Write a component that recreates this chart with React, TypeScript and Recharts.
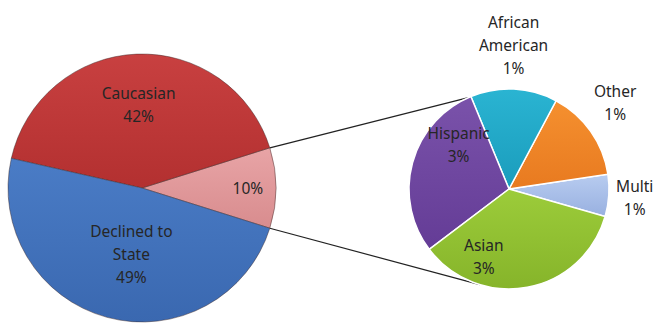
import React from "react";
import { PieChart, Pie, Cell, Customized } from "recharts";

// main pie: the 10% slice is broken out into the small pie
const mainNames = ["Other", "Caucasian", "Declined to State"];
const mainValues = [9.7, 41.6, 48.7];

// breakdown of the broken-out slice (counter-clockwise from Multi)
const subNames = ["Multi", "Other", "African American", "Hispanic", "Asian"];
const subValues = [0.66, 1.44, 1.36, 2.82, 3.42];

const mainData = mainNames.map((name, i) => ({ name, value: mainValues[i] }));
const subData = subNames.map((name, i) => ({ name, value: subValues[i] }));

const mainColors = ["url(#gPink)", "url(#gRed)", "url(#gBlue)"];
const subColors = ["url(#gLtBlue)", "url(#gOrange)", "url(#gAqua)", "url(#gPurple)", "url(#gGreen)"];

// label text lines and placement (radius factor, angle offset)
const mainLines: Record<string, string[]> = {
  Other: [],
  Caucasian: ["Caucasian"],
  "Declined to State": ["Declined to", "State"],
};
const subLines: Record<string, string[]> = {
  Multi: ["Multi"],
  Other: ["Other"],
  "African American": ["African", "American"],
  Hispanic: ["Hispanic"],
  Asian: ["Asian"],
};
const mainPlace = [
  { r: 0.79, da: 0 },
  { r: 0.62, da: 0 },
  { r: 0.5, da: 6 },
];
const subPlace = [
  { r: 1.26, da: 0 },
  { r: 1.37, da: 4 },
  { r: 1.44, da: 1 },
  { r: 0.67, da: -26 },
  { r: 0.72, da: -31 },
];

const MAIN = { cx: 142, cy: 188, r: 134 };
const SUB = { cx: 509, cy: 189, r: 100 };
const TOTAL = mainValues.reduce((a, b) => a + b, 0);
const mainStart = -(mainValues[0] / TOTAL) * 180;
const subStart = -16;
const RAD = Math.PI / 180;
const FONT = "'Noto Sans', 'Open Sans', sans-serif";
const LINE_H = 23;

function makeLabel(lines: Record<string, string[]>, place: { r: number; da: number }[]) {
  return (props: any) => {
    const { cx, cy, midAngle, outerRadius, index, name, value } = props;
    const p = place[index];
    const a = (midAngle + p.da) * RAD;
    const x = cx + outerRadius * p.r * Math.cos(-a);
    const y = cy + outerRadius * p.r * Math.sin(-a);
    const rows = [...lines[name], `${Math.round((value / TOTAL) * 100)}%`];
    const y0 = y - ((rows.length - 1) * LINE_H) / 2;
    return (
      <text
        x={x}
        y={y0}
        textAnchor="middle"
        dominantBaseline="central"
        fontFamily={FONT}
        fontSize={15.5}
        fill="#262626"
      >
        {rows.map((t, i) => (
          <tspan key={i} x={x} y={y0 + i * LINE_H}>
            {t}
          </tspan>
        ))}
      </text>
    );
  };
}

function Connectors() {
  const a1 = -mainStart * RAD;
  const a2 = mainStart * RAD;
  const b1 = 114 * RAD;
  const b2 = -107 * RAD;
  const pt = (c: typeof MAIN, a: number) => [c.cx + c.r * Math.cos(a), c.cy - c.r * Math.sin(a)];
  const [x1, y1] = pt(MAIN, a1);
  const [x2, y2] = pt(SUB, b1);
  const [x3, y3] = pt(MAIN, a2);
  const [x4, y4] = pt(SUB, b2);
  return (
    <g>
      <line x1={x1} y1={y1} x2={x2} y2={y2} stroke="#222" strokeWidth={1.2} />
      <line x1={x3} y1={y3} x2={x4} y2={y4} stroke="#222" strokeWidth={1.2} />
    </g>
  );
}

const grad = (id: string, top: string, bottom: string) => (
  <linearGradient id={id} x1="0" y1="0" x2="0" y2="1">
    <stop offset="0%" stopColor={top} />
    <stop offset="100%" stopColor={bottom} />
  </linearGradient>
);

export default function App() {
  return (
    <div style={{ position: "absolute", left: 0, top: 0, width: 655, height: 328, background: "#fff" }}>
      <PieChart width={655} height={328} margin={{ top: 0, right: 0, bottom: 0, left: 0 }}>
        <defs>
          {grad("gRed", "#c84040", "#b33030")}
          {grad("gBlue", "#4a7cc6", "#3a68b0")}
          {grad("gPink", "#e8a4a6", "#d88c8e")}
          {grad("gAqua", "#2ab4d2", "#1a9cbc")}
          {grad("gOrange", "#f5902f", "#e87a20")}
          {grad("gLtBlue", "#b8ccf0", "#98b0e0")}
          {grad("gGreen", "#9ccc3a", "#86b42a")}
          {grad("gPurple", "#7a52aa", "#643c96")}
        </defs>
        <Customized component={Connectors} />
        <Pie
          data={mainData}
          dataKey="value"
          nameKey="name"
          cx={MAIN.cx}
          cy={MAIN.cy}
          outerRadius={MAIN.r}
          startAngle={mainStart}
          endAngle={mainStart + 360}
          stroke="rgba(60,40,40,0.45)"
          strokeWidth={1}
          label={makeLabel(mainLines, mainPlace)}
          labelLine={false}
          isAnimationActive={false}
        >
          {mainData.map((d, i) => (
            <Cell key={d.name} fill={mainColors[i]} />
          ))}
        </Pie>
        <Pie
          data={subData}
          dataKey="value"
          nameKey="name"
          cx={SUB.cx}
          cy={SUB.cy}
          outerRadius={SUB.r}
          startAngle={subStart}
          endAngle={subStart + 360}
          stroke="#ffffff"
          strokeWidth={1.5}
          label={makeLabel(subLines, subPlace)}
          labelLine={false}
          isAnimationActive={false}
        >
          {subData.map((d, i) => (
            <Cell key={d.name} fill={subColors[i]} />
          ))}
        </Pie>
      </PieChart>
    </div>
  );
}
